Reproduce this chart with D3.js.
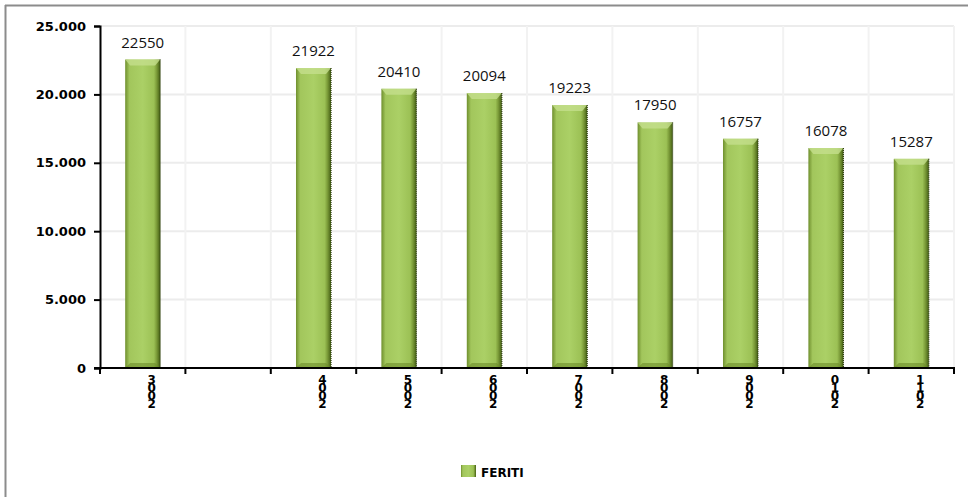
<!DOCTYPE html>
<html lang="en">
<head>
<meta charset="utf-8">
<title>FERITI</title>
<script src="https://cdn.jsdelivr.net/npm/d3@7"></script>
<style>
  body { margin: 0; background: #fff; }
</style>
</head>
<body>
<script>
// data
var years = ["2003", "", "2004", "2005", "2006", "2007", "2008", "2009", "2010", "2011"];
var feriti = [22550, null, 21922, 20410, 20094, 19223, 17950, 16757, 16078, 15287];
var yTicks = [0, 5000, 10000, 15000, 20000, 25000];
var seriesName = "FERITI";

var w = 968, h = 497;
var plotLeft = 100, plotRight = 954, plotTop = 26, plotBottom = 368;

var svg = d3.select("body").append("svg")
    .attr("width", w)
    .attr("height", h);

var defs = svg.append("defs");
var grad = defs.append("linearGradient").attr("id", "barGrad")
    .attr("x1", "0").attr("x2", "1").attr("y1", "0").attr("y2", "0");
[["0", "#6f8f2e"], ["0.12", "#a2c65c"], ["0.5", "#abd066"], ["0.82", "#9cc155"], ["0.9", "#7a9a38"], ["1", "#445e14"]]
    .forEach(function(s) { grad.append("stop").attr("offset", s[0]).attr("stop-color", s[1]); });

// outer frame (only top and left visible)
svg.append("line").attr("x1", 5).attr("x2", w).attr("y1", 5.5).attr("y2", 5.5)
    .attr("stroke", "#8c8c8c").attr("stroke-width", 2);
svg.append("line").attr("x1", 5.5).attr("x2", 5.5).attr("y1", 5).attr("y2", h)
    .attr("stroke", "#8c8c8c").attr("stroke-width", 2);

var xScale = d3.scaleBand()
    .domain(d3.range(years.length))
    .range([plotLeft, plotRight])
    .paddingInner(0.59)
    .paddingOuter(0.295);
var step = xScale.step();

var yScale = d3.scaleLinear()
    .domain([0, 25000])
    .range([plotBottom, plotTop]);

var fmt = d3.formatLocale({decimal: ",", thousands: ".", grouping: [3], currency: ["", ""]}).format(",d");

// grid
svg.append("g").selectAll("line")
    .data(yTicks.slice(1))
    .enter().append("line")
    .attr("x1", plotLeft).attr("x2", plotRight)
    .attr("y1", function(d) { return yScale(d); })
    .attr("y2", function(d) { return yScale(d); })
    .attr("stroke", "#ececec").attr("stroke-width", 2);
svg.append("g").selectAll("line")
    .data(d3.range(1, years.length + 1))
    .enter().append("line")
    .attr("x1", function(i) { return plotLeft + i * step; })
    .attr("x2", function(i) { return plotLeft + i * step; })
    .attr("y1", plotTop).attr("y2", plotBottom)
    .attr("stroke", "#f2f2f2").attr("stroke-width", 2);

// bars
var bars = svg.append("g").selectAll("g")
    .data(feriti.map(function(v, i) { return {v: v, i: i}; }).filter(function(d) { return d.v !== null; }))
    .enter().append("g");
bars.append("rect")
    .attr("x", function(d) { return xScale(d.i); })
    .attr("y", function(d) { return yScale(d.v); })
    .attr("width", xScale.bandwidth())
    .attr("height", function(d) { return plotBottom - yScale(d.v); })
    .attr("fill", "url(#barGrad)");
// top bevel
bars.append("path")
    .attr("d", function(d) {
        var x0 = xScale(d.i), x1 = x0 + xScale.bandwidth(), y0 = yScale(d.v);
        return "M" + x0 + "," + y0 + "L" + x1 + "," + y0 + "L" + (x1 - 5) + "," + (y0 + 6) + "L" + (x0 + 5) + "," + (y0 + 6) + "Z";
    })
    .attr("fill", "#c4de8c").attr("opacity", 0.8);
// bottom bevel
bars.append("path")
    .attr("d", function(d) {
        var x0 = xScale(d.i), x1 = x0 + xScale.bandwidth();
        return "M" + x0 + "," + plotBottom + "L" + x1 + "," + plotBottom + "L" + (x1 - 5) + "," + (plotBottom - 5) + "L" + (x0 + 5) + "," + (plotBottom - 5) + "Z";
    })
    .attr("fill", "#6c8c2a").attr("opacity", 0.6);
// dotted right edge
bars.append("line")
    .attr("x1", function(d) { return xScale(d.i) + xScale.bandwidth(); })
    .attr("x2", function(d) { return xScale(d.i) + xScale.bandwidth(); })
    .attr("y1", function(d) { return yScale(d.v); })
    .attr("y2", plotBottom)
    .attr("stroke", "#2f3f10").attr("stroke-width", 1.2).attr("stroke-dasharray", "1,1");

// value labels
bars.append("text")
    .attr("x", function(d) { return xScale(d.i) + xScale.bandwidth() / 2; })
    .attr("y", function(d) { return yScale(d.v) - 12; })
    .attr("text-anchor", "middle")
    .attr("font-family", "Open Sans")
    .attr("font-size", "15px")
    .attr("fill", "#111")
    .text(function(d) { return d.v; });

// y axis
var yAxis = d3.axisLeft(yScale).tickValues(yTicks).tickSize(6).tickPadding(8).tickFormat(fmt);
var gy = svg.append("g")
    .attr("transform", "translate(" + plotLeft + ",0)")
    .call(yAxis);
gy.select(".domain").attr("stroke", "#000").attr("stroke-width", 2);
gy.selectAll(".tick line").attr("stroke", "#000").attr("stroke-width", 2);
gy.selectAll(".tick text")
    .attr("font-family", "DejaVu Sans")
    .attr("font-weight", "bold")
    .attr("font-size", "13px")
    .attr("fill", "#000");

// x axis line and ticks at band edges
svg.append("line").attr("x1", plotLeft - 6).attr("x2", plotRight + 1)
    .attr("y1", plotBottom).attr("y2", plotBottom)
    .attr("stroke", "#000").attr("stroke-width", 2);
svg.append("g").selectAll("line")
    .data(d3.range(0, years.length + 1))
    .enter().append("line")
    .attr("x1", function(i) { return plotLeft + i * step; })
    .attr("x2", function(i) { return plotLeft + i * step; })
    .attr("y1", plotBottom).attr("y2", plotBottom + 6)
    .attr("stroke", "#000").attr("stroke-width", 2);

// x labels: digits stacked vertically, reversed (as in the source chart)
var xl = svg.append("g").selectAll("text")
    .data(years.map(function(y, i) { return {y: y, i: i}; }))
    .enter().append("text")
    .attr("font-family", "DejaVu Sans")
    .attr("font-weight", "bold")
    .attr("font-size", "12px")
    .attr("text-anchor", "middle")
    .attr("fill", "#000");
xl.selectAll("tspan")
    .data(function(d) {
        return d.y.split("").reverse().map(function(c, k) { return {c: c, k: k, i: d.i}; });
    })
    .enter().append("tspan")
    .attr("x", function(d) { return xScale(d.i) + xScale.bandwidth() / 2 + 9; })
    .attr("y", function(d) { return plotBottom + 16 + d.k * 8; })
    .text(function(d) { return d.c; });

// legend
var lg = svg.append("g");
lg.append("rect").attr("x", 461).attr("y", 465).attr("width", 15).attr("height", 12)
    .attr("fill", "url(#barGrad)");
lg.append("text").attr("x", 481).attr("y", 477)
    .attr("font-family", "DejaVu Sans")
    .attr("font-weight", "bold")
    .attr("font-size", "12px")
    .attr("fill", "#000")
    .text(seriesName);
</script>
</body>
</html>
